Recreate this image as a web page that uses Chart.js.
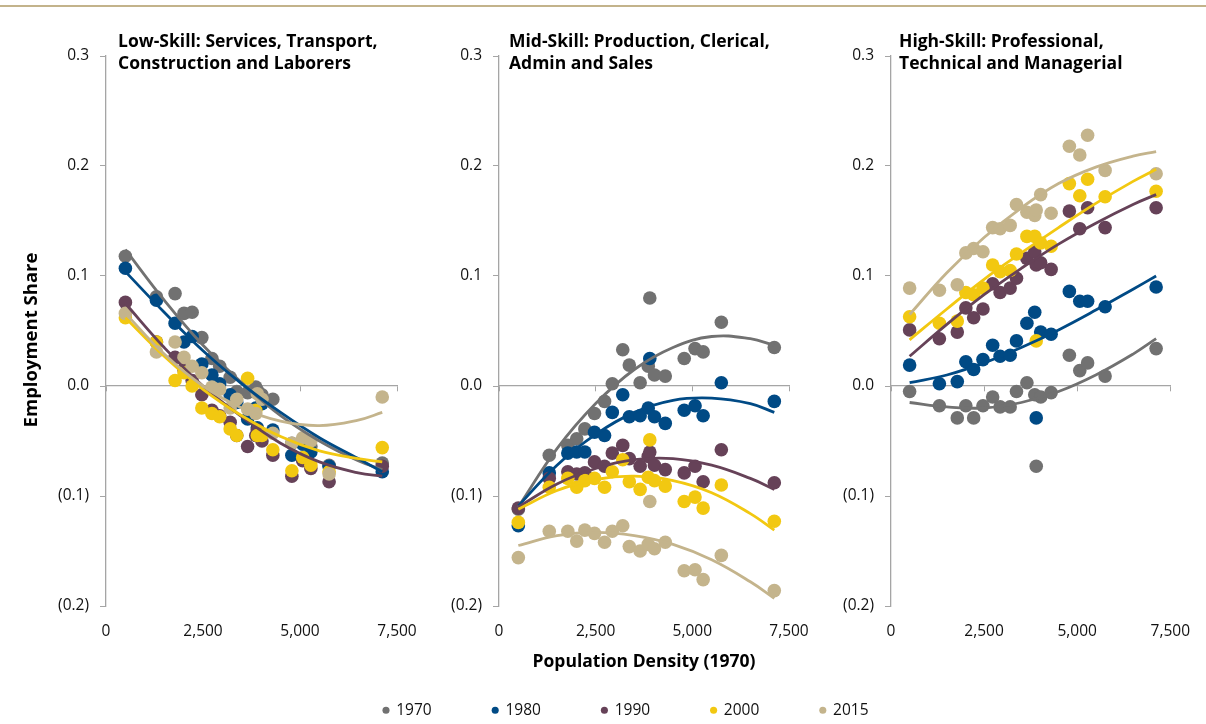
<!DOCTYPE html>
<html>
<head>
<meta charset="utf-8">
<script src="https://cdn.jsdelivr.net/npm/chart.js@4.4.1/dist/chart.umd.min.js"></script>
<style>
  html, body { margin: 0; padding: 0; background: #ffffff; }
  #wrap { position: relative; width: 1206px; height: 724px; overflow: hidden; background: #ffffff; }
  #wrap canvas { position: absolute; left: 0; top: 0; }
  #wrap #legendCanvas { top: 8px; }
  .rule { position: absolute; left: 0; top: 5px; width: 1206px; height: 2px; background: #c3b38b; }
</style>
</head>
<body>
<div id="wrap">
  <div class="rule"></div>
  <canvas id="lowCanvas" width="1206" height="724"></canvas>
  <canvas id="midCanvas" width="1206" height="724"></canvas>
  <canvas id="highCanvas" width="1206" height="724"></canvas>
  <canvas id="legendCanvas" width="1206" height="724"></canvas>
</div>
<script>
// ---- data -------------------------------------------------------------
const years = ['1970', '1980', '1990', '2000', '2015'];

// 1970 population density of each metro area (x position of every dot)
const density = [500, 1300, 1780, 2010, 2220, 2470, 2730, 2930, 3200, 3370,
                 3650, 3860, 3900, 4020, 4300, 4790, 5070, 5280, 5750, 7120];

// x positions at which the fitted trend curves are tabulated
const trendX = [500, 1500, 2500, 3500, 4500, 5500, 6500, 7120];

// Low-skill employment share
const low1970 = [0.118, 0.081, 0.084, 0.066, 0.067, 0.044, 0.025, 0.018, 0.008, -0.005, -0.006, -0.001, -0.004, -0.008, -0.012, -0.052, -0.049, -0.055, -0.072, -0.070];
const low1980 = [0.107, 0.078, 0.057, 0.040, 0.045, 0.020, 0.010, 0.002, -0.008, -0.015, -0.030, -0.020, -0.038, -0.016, -0.040, -0.063, -0.053, -0.060, -0.073, -0.078];
const low1990 = [0.076, 0.040, 0.026, 0.015, 0.005, -0.008, -0.022, -0.027, -0.033, -0.045, -0.055, -0.045, -0.040, -0.050, -0.063, -0.082, -0.068, -0.075, -0.087, -0.073];
const low2000 = [0.062, 0.040, 0.005, 0.012, 0.000, -0.020, -0.025, -0.028, -0.039, -0.045, 0.007, -0.022, -0.045, -0.045, -0.058, -0.077, -0.065, -0.072, -0.078, -0.056];
const low2015 = [0.066, 0.031, 0.040, 0.026, 0.018, 0.012, -0.001, -0.003, -0.020, -0.012, -0.021, -0.025, -0.007, -0.012, -0.043, -0.052, -0.047, -0.050, -0.080, -0.010];

// Mid-skill employment share
const mid1970 = [-0.112, -0.063, -0.054, -0.048, -0.039, -0.025, -0.014, 0.002, 0.033, 0.019, 0.003, 0.018, 0.080, 0.010, 0.009, 0.025, 0.034, 0.031, 0.058, 0.035];
const mid1980 = [-0.127, -0.079, -0.061, -0.060, -0.060, -0.042, -0.045, -0.024, -0.008, -0.028, -0.027, -0.020, 0.025, -0.028, -0.034, -0.022, -0.018, -0.027, 0.003, -0.014];
const mid1990 = [-0.111, -0.084, -0.078, -0.080, -0.079, -0.069, -0.073, -0.061, -0.054, -0.066, -0.073, -0.064, -0.060, -0.072, -0.076, -0.079, -0.073, -0.087, -0.058, -0.088];
const mid2000 = [-0.124, -0.092, -0.084, -0.092, -0.086, -0.084, -0.092, -0.078, -0.067, -0.087, -0.094, -0.083, -0.049, -0.086, -0.091, -0.105, -0.101, -0.111, -0.090, -0.123];
const mid2015 = [-0.156, -0.132, -0.132, -0.141, -0.131, -0.134, -0.142, -0.132, -0.127, -0.146, -0.150, -0.144, -0.105, -0.148, -0.142, -0.168, -0.167, -0.176, -0.154, -0.186];

// High-skill employment share
const high1970 = [-0.005, -0.018, -0.029, -0.018, -0.029, -0.018, -0.010, -0.019, -0.019, -0.005, 0.003, -0.008, -0.073, -0.010, -0.006, 0.028, 0.014, 0.021, 0.009, 0.034];
const high1980 = [0.019, 0.002, 0.004, 0.022, 0.015, 0.024, 0.037, 0.027, 0.028, 0.041, 0.057, 0.067, -0.029, 0.049, 0.047, 0.086, 0.077, 0.077, 0.072, 0.090];
const high1990 = [0.051, 0.043, 0.049, 0.071, 0.062, 0.070, 0.093, 0.085, 0.089, 0.098, 0.116, 0.122, 0.110, 0.112, 0.106, 0.159, 0.143, 0.162, 0.144, 0.162];
const high2000 = [0.063, 0.057, 0.059, 0.085, 0.083, 0.089, 0.110, 0.104, 0.105, 0.120, 0.136, 0.136, 0.041, 0.130, 0.127, 0.184, 0.173, 0.188, 0.172, 0.177];
const high2015 = [0.089, 0.087, 0.092, 0.121, 0.125, 0.122, 0.144, 0.143, 0.146, 0.165, 0.158, 0.155, 0.160, 0.174, 0.157, 0.218, 0.210, 0.228, 0.196, 0.193];

// Polynomial trend curves, tabulated at trendX
const low1970Trend = [0.124, 0.078, 0.037, 0.003, -0.027, -0.050, -0.068, -0.076];
const low1980Trend = [0.104, 0.067, 0.032, 0.002, -0.024, -0.047, -0.066, -0.078];
const low1990Trend = [0.075, 0.035, 0.000, -0.028, -0.052, -0.069, -0.079, -0.082];
const low2000Trend = [0.062, 0.027, -0.003, -0.027, -0.046, -0.059, -0.066, -0.069];
const low2015Trend = [0.066, 0.029, 0.000, -0.020, -0.032, -0.036, -0.031, -0.024];

const mid1970Trend = [-0.110, -0.057, -0.016, 0.015, 0.035, 0.045, 0.043, 0.037];
const mid1980Trend = [-0.109, -0.072, -0.044, -0.024, -0.013, -0.011, -0.016, -0.024];
const mid1990Trend = [-0.110, -0.089, -0.075, -0.067, -0.066, -0.072, -0.084, -0.094];
const mid2000Trend = [-0.112, -0.095, -0.085, -0.082, -0.086, -0.097, -0.116, -0.131];
const mid2015Trend = [-0.145, -0.136, -0.133, -0.136, -0.144, -0.158, -0.178, -0.193];

const high1970Trend = [-0.015, -0.019, -0.020, -0.015, -0.005, 0.010, 0.029, 0.043];
const high1980Trend = [0.003, 0.010, 0.021, 0.035, 0.051, 0.069, 0.088, 0.100];
const high1990Trend = [0.027, 0.056, 0.083, 0.107, 0.129, 0.148, 0.165, 0.174];
const high2000Trend = [0.042, 0.070, 0.097, 0.121, 0.144, 0.166, 0.186, 0.197];
const high2015Trend = [0.065, 0.103, 0.135, 0.162, 0.184, 0.199, 0.209, 0.213];

const yTicks = [-0.2, -0.1, 0.0, 0.1, 0.2, 0.3];
const xTicks = [0, 2500, 5000, 7500];

// ---- styling ----------------------------------------------------------
const seriesColors = ['#717171', '#004a85', '#664258', '#f2c811', '#c4b48c'];
const AXIS = '#a5a5a5';
const TEXT = '#111111';
const FONT = '"Open Sans", Lato, sans-serif';

const pair = (xs, ys) => xs.map((x, i) => ({ x, y: ys[i] }));
const fmtShare = v => {
  const r = Math.round(v * 10) / 10;
  if (r < 0) return '(' + Math.abs(r).toFixed(1) + ')';
  return r.toFixed(1);
};
const fmtDensity = v => Number(v).toLocaleString('en-US');

// bold two-line heading written inside the top-left of each plot
const panelHeading = {
  id: 'panelHeading',
  afterDraw(chart, args, opts) {
    if (!opts || !opts.lines) return;
    const { ctx, chartArea } = chart;
    ctx.save();
    ctx.font = 'bold 17.5px ' + FONT;
    ctx.fillStyle = '#000000';
    ctx.textBaseline = 'middle';
    ctx.textAlign = 'left';
    opts.lines.forEach((t, i) => ctx.fillText(t, chartArea.left + opts.dx, 42 + i * 22));
    if (opts.yTitle) {
      ctx.font = 'bold 18.5px ' + FONT;
      ctx.translate(32, 340);
      ctx.rotate(-Math.PI / 2);
      ctx.textAlign = 'center';
      ctx.fillText(opts.yTitle, 0, 0);
    }
    ctx.restore();
  }
};

function buildDatasets(pointSets, trendSets) {
  const ds = [];
  trendSets.forEach((t, i) => ds.push({
    type: 'line', label: years[i] + ' trend', data: pair(trendX, t),
    borderColor: seriesColors[i], borderWidth: 2.8, pointRadius: 0,
    tension: 0.4, fill: false, order: 4 - i
  }));
  pointSets.forEach((p, i) => ds.push({
    type: 'scatter', label: years[i], data: pair(density, p),
    backgroundColor: seriesColors[i], borderWidth: 0,
    pointRadius: 6.8, pointHoverRadius: 6.8, order: 20 - i
  }));
  return ds;
}

function panelConfig(pointSets, trendSets, o) {
  return {
    type: 'scatter',
    data: { datasets: buildDatasets(pointSets, trendSets) },
    options: {
      responsive: false, animation: false, events: [],
      layout: { padding: { left: o.left - o.yWidth, right: 1206 - o.right, top: 56, bottom: 724 - 606 - o.xHeight } },
      plugins: {
        legend: { display: false }, tooltip: { enabled: false },
        panelHeading: { lines: o.heading, dx: o.dx, yTitle: o.yTitle }
      },
      scales: {
        x: {
          type: 'linear', position: 'bottom', min: 0, max: 7500,
          afterBuildTicks: s => { s.ticks = xTicks.map(v => ({ value: v })); },
          afterFit: s => { s.height = o.xHeight; },
          grid: { display: false, drawTicks: false },
          border: { display: false },
          ticks: { callback: fmtDensity, padding: 16, maxRotation: 0, autoSkip: false,
                   color: TEXT, font: { family: FONT, size: 15.5 } },
          title: o.xTitle ? { display: true, text: o.xTitle, color: '#000000',
                   font: { family: FONT, size: 17.5, weight: 'bold' }, padding: { top: 0, bottom: 3 } }
                 : { display: false }
        },
        xZero: {
          type: 'linear', position: { y: 0 }, min: 0, max: 7500,
          afterBuildTicks: s => { s.ticks = xTicks.map(v => ({ value: v })); },
          ticks: { display: false },
          grid: { drawOnChartArea: false, drawTicks: true, tickLength: 5, color: AXIS, lineWidth: 1 },
          border: { display: true, color: AXIS, width: 1.3 }
        },
        y: {
          type: 'linear', position: 'left', min: -0.2, max: 0.3,
          afterBuildTicks: s => { s.ticks = yTicks.map(v => ({ value: v })); },
          afterFit: s => { s.width = o.yWidth; },
          grid: { drawOnChartArea: false, drawTicks: true, tickLength: 6, color: AXIS, lineWidth: 1 },
          border: { display: true, color: AXIS, width: 1.3 },
          ticks: { callback: fmtShare, padding: 11, color: TEXT, font: { family: FONT, size: 15.5 } }
        }
      }
    },
    plugins: [panelHeading]
  };
}

new Chart(document.getElementById('lowCanvas'), panelConfig(
  [low1970, low1980, low1990, low2000, low2015],
  [low1970Trend, low1980Trend, low1990Trend, low2000Trend, low2015Trend],
  { left: 106, right: 397, yWidth: 92, xHeight: 40, dx: 12,
    heading: ['Low-Skill: Services, Transport,', 'Construction and Laborers'],
    yTitle: 'Employment Share' }));

new Chart(document.getElementById('midCanvas'), panelConfig(
  [mid1970, mid1980, mid1990, mid2000, mid2015],
  [mid1970Trend, mid1980Trend, mid1990Trend, mid2000Trend, mid2015Trend],
  { left: 499, right: 789, yWidth: 60, xHeight: 70, dx: 10,
    heading: ['Mid-Skill: Production, Clerical,', 'Admin and Sales'],
    xTitle: 'Population Density (1970)' }));

new Chart(document.getElementById('highCanvas'), panelConfig(
  [high1970, high1980, high1990, high2000, high2015],
  [high1970Trend, high1980Trend, high1990Trend, high2000Trend, high2015Trend],
  { left: 891, right: 1182, yWidth: 60, xHeight: 40, dx: 8,
    heading: ['High-Skill: Professional,', 'Technical and Managerial'] }));

// shared legend for the three panels
new Chart(document.getElementById('legendCanvas'), {
  type: 'scatter',
  data: { datasets: years.map((y, i) => ({ label: y, data: [], backgroundColor: seriesColors[i], borderWidth: 0 })) },
  options: {
    responsive: false, animation: false, events: [],
    layout: { padding: { left: 46, right: 0, top: 0, bottom: 4 } },
    scales: { x: { display: false }, y: { display: false } },
    plugins: {
      tooltip: { enabled: false },
      legend: {
        position: 'bottom',
        labels: { usePointStyle: true, pointStyle: 'circle', boxWidth: 5, boxHeight: 5,
                  padding: 61, color: TEXT, font: { family: FONT, size: 15.5 } }
      }
    }
  }
});
</script>
</body>
</html>
